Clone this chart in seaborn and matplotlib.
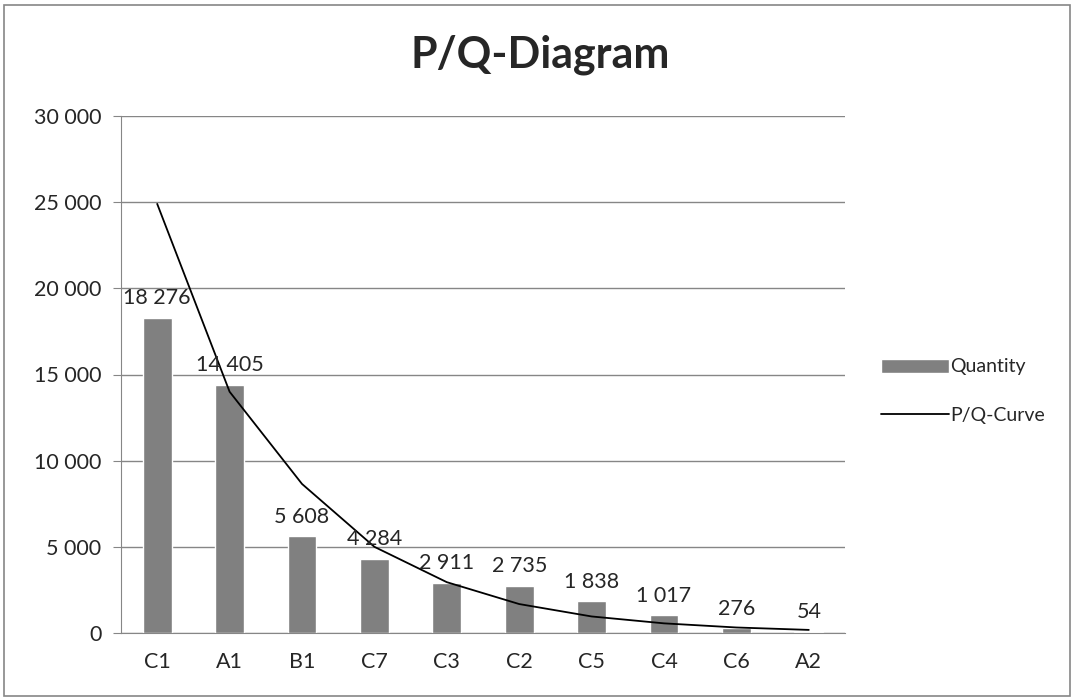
import matplotlib
matplotlib.use('Agg')
import matplotlib.pyplot as plt
import seaborn as sns
from matplotlib.ticker import FuncFormatter
from matplotlib.patches import Rectangle

categories = ['C1', 'A1', 'B1', 'C7', 'C3', 'C2', 'C5', 'C4', 'C6', 'A2']
quantity = [18276, 14405, 5608, 4284, 2911, 2735, 1838, 1017, 276, 54]
# P/Q-curve at each category
curve = [24900, 14000, 8650, 5000, 2950, 1680, 960, 560, 320, 180]

sns.set_style('white')
plt.rcParams['font.family'] = ['Lato', 'DejaVu Sans']

fig = plt.figure(figsize=(10.75, 7), dpi=100)
ax = fig.add_axes([121 / 1075, 1 - 633 / 700, (845 - 121) / 1075, (633 - 116) / 700])

sns.barplot(x=categories, y=quantity, color='#808080', saturation=1, width=0.4,
            label='Quantity', ax=ax)
sns.lineplot(x=categories, y=curve, color='black', linewidth=1.3,
             label='P/Q-Curve', ax=ax)

for i, v in enumerate(quantity):
    ax.annotate(f'{v:,}'.replace(',', ' '), (i, v), xytext=(0, 7),
                textcoords='offset points', ha='center', va='bottom', fontsize=15.5)

ax.set_ylim(0, 30000)
ax.set_xlim(-0.5, 9.5)
ax.set_yticks(range(0, 30001, 5000))
ax.yaxis.set_major_formatter(FuncFormatter(lambda v, p: f'{int(v):,}'.replace(',', ' ')))
ax.yaxis.grid(True, color='#868686', linewidth=1)
ax.set_axisbelow(True)
ax.set_xticks([i - 0.5 for i in range(11)], minor=True)
ax.tick_params(axis='x', which='major', length=0, labelsize=15.5, pad=14)
ax.tick_params(axis='x', which='minor', length=6, color='#868686', direction='out')
ax.tick_params(axis='y', length=6, color='#868686', direction='out', labelsize=15.5, left=True, pad=8)
for side in ['top', 'right']:
    ax.spines[side].set_visible(False)
for side in ['left', 'bottom']:
    ax.spines[side].set_color('#868686')
ax.set_xlabel('')
ax.set_ylabel('')

handles, labels = ax.get_legend_handles_labels()
order = [labels.index('Quantity'), labels.index('P/Q-Curve')]
ax.legend([handles[i] for i in order], [labels[i] for i in order],
          loc='center left', bbox_to_anchor=(1.025, 0.468), frameon=False, fontsize=14,
          handlelength=3.5, handleheight=0.75, labelspacing=1.6, handletextpad=0.1)

fig.text(540 / 1075, 1 - 55 / 700, 'P/Q-Diagram', ha='center', va='center',
         fontsize=31, fontweight='bold')
fig.patches.append(Rectangle((4 / 1075, 4 / 700), 1066 / 1075, 691 / 700,
                             transform=fig.transFigure, fill=False,
                             edgecolor='#868686', linewidth=1.2))

fig.savefig('out.png', dpi=100)
